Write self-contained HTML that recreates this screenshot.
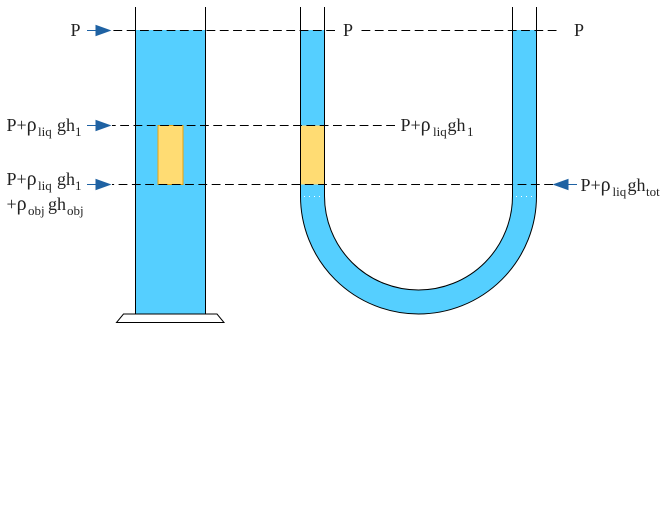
<!DOCTYPE html>
<html><head><meta charset="utf-8"><style>
html,body{margin:0;padding:0;background:#fff;width:660px;height:526px;overflow:hidden}
svg{display:block}
text{font-family:"Liberation Serif","DejaVu Serif",serif;font-size:18px;fill:#222}
.s{font-size:13px}
.r{font-size:20px}
</style></head><body>
<svg width="660" height="526" viewBox="0 0 660 526" xmlns="http://www.w3.org/2000/svg">
<rect x="135.5" y="30" width="70" height="284" fill="#55cfff"/>
<rect x="158" y="125.5" width="25" height="59" fill="#ffdc73" stroke="#eaa30c" stroke-width="1"/>
<path d="M135.5 7V314M205.5 7V314" stroke="#000" stroke-width="1" fill="none"/>
<path d="M123.5 314H217L224 322.5H116.5Z" fill="#fff" stroke="#000" stroke-width="1"/>
<path d="M300.5 30H324.5V196A94 94 0 0 0 512.5 196V30H536.5V196A118 118 0 0 1 300.5 196Z" fill="#55cfff"/>
<rect x="301" y="125.5" width="23.5" height="59" fill="#ffdc73"/>
<path d="M300.5 7V196A118 118 0 0 0 536.5 196V7M324.5 7V196A94 94 0 0 0 512.5 196V7" fill="none" stroke="#000" stroke-width="1"/>
<path d="M304 196.500H322M516 196.500H534" stroke="#fff" stroke-width="1" stroke-dasharray="1 4" fill="none"/>
<g stroke="#000" stroke-width="1" stroke-dasharray="8.800 4.500" fill="none">
<path d="M335 30.500H112"/>
<path d="M556.500 30.500H360"/>
<path d="M395 125.500H112"/>
<path d="M553 184.500H112"/>
</g>
<g stroke="#1f62a3" stroke-width="1" fill="#1f62a3">
<path d="M87 30.500H97" fill="none"/><path d="M96 25.500L110 30.500L96 35.500Z"/>
<path d="M87 125.500H97" fill="none"/><path d="M96 120.500L110 125.500L96 130.500Z"/>
<path d="M87 184.500H97" fill="none"/><path d="M96 179.500L110 184.500L96 189.500Z"/>
<path d="M577 184.500H567" fill="none"/><path d="M568 179.500L554 184.500L568 189.500Z"/>
</g>
<text x="70.500" y="36">P</text>
<text x="343" y="36">P</text>
<text x="574" y="36">P</text>
<text x="6.500" y="131">P+<tspan class="r">ρ</tspan></text><text class="s" x="38" y="136">liq</text><text x="57" y="131">gh</text><text class="s" x="75" y="136">1</text>
<text x="6.500" y="185">P+<tspan class="r">ρ</tspan></text><text class="s" x="38" y="190">liq</text><text x="57" y="185">gh</text><text class="s" x="75" y="190">1</text>
<text x="6.500" y="210">+<tspan class="r">ρ</tspan></text><text class="s" x="28" y="215">obj</text><text x="48" y="210">gh</text><text class="s" x="67" y="215">obj</text>
<text x="400.500" y="131">P+<tspan class="r">ρ</tspan></text><text class="s" x="433" y="136">liq</text><text x="447.500" y="131">gh</text><text class="s" x="467" y="136">1</text>
<text x="580.500" y="191">P+<tspan class="r">ρ</tspan></text><text class="s" x="612.500" y="196">liq</text><text x="627.500" y="191">gh</text><text class="s" x="646" y="196">tot</text>
</svg>
</body></html>
